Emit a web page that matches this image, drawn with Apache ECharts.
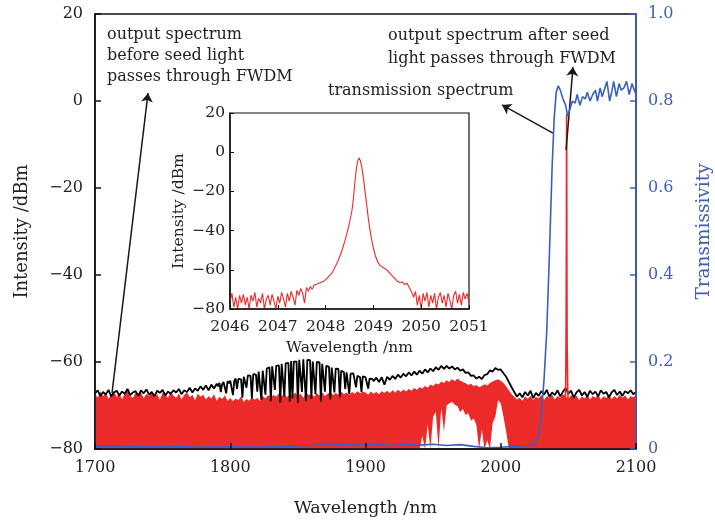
<!DOCTYPE html>
<html>
<head>
<meta charset="utf-8">
<title>Output spectrum through FWDM</title>
<script src="https://cdn.jsdelivr.net/npm/echarts@6/dist/echarts.min.js"></script>
<style>
  html, body { margin: 0; padding: 0; background: #fff; }
  #chart { width: 715px; height: 524px; }
</style>
</head>
<body>
<div id="chart"></div>
<script>
// ---- data ----

// black: output spectrum before seed light passes through FWDM  [nm, dBm]
const blackSpectrum = [
  [1700,-67.2],[1702,-66.5],[1704,-67.8],[1706,-66.9],[1708,-67.5],[1710,-66.4],[1712,-67.9],[1714,-67.0],[1716,-66.6],[1718,-67.7],
  [1720,-66.8],[1722,-67.3],[1724,-66.2],[1726,-67.6],[1728,-67.0],[1730,-66.7],[1732,-67.8],[1734,-66.5],[1736,-67.2],[1738,-66.3],
  [1740,-67.5],[1742,-66.9],[1744,-67.9],[1746,-66.6],[1748,-67.1],[1750,-66.4],[1752,-67.7],[1754,-66.8],[1756,-67.3],[1758,-66.5],
  [1760,-67.0],[1762,-66.2],[1764,-67.4],[1766,-66.5],[1768,-66.9],[1770,-65.9],[1772,-67.0],[1774,-66.1],[1776,-66.6],[1778,-65.6],
  [1780,-66.4],[1782,-65.4],[1784,-66.5],[1786,-65.2],[1788,-66.1],
  [1790,-65.0],[1791,-65.6],[1792,-64.8],[1793,-66.9],[1794,-65.1],[1795,-64.6],[1796,-64.9],[1797,-67.2],[1798,-64.4],[1799,-64.9],
  [1800,-64.3],[1801,-64.0],[1802,-67.6],[1803,-64.3],[1804,-63.8],[1805,-66.2],[1806,-63.9],[1807,-63.5],[1808,-64.0],[1809,-68.2],
  [1810,-63.4],[1811,-63.0],[1812,-65.9],[1813,-63.1],[1814,-62.7],[1815,-63.2],[1816,-68.4],[1817,-62.8],[1818,-62.4],[1819,-62.9],
  [1820,-66.8],[1821,-62.2],[1822,-61.9],[1823,-68.7],[1824,-62.0],[1825,-61.6],[1826,-67.5],[1827,-61.5],[1828,-61.9],[1829,-61.2],
  [1830,-69.0],[1831,-61.0],[1832,-60.7],[1833,-66.4],[1834,-60.9],[1835,-60.5],[1836,-60.8],[1837,-69.3],[1838,-60.4],[1839,-60.1],
  [1840,-67.9],[1841,-60.3],[1842,-59.9],[1843,-60.2],[1844,-69.1],[1845,-59.8],[1846,-68.3],[1847,-59.9],[1848,-59.6],[1849,-59.9],
  [1850,-69.4],[1851,-59.5],[1852,-59.8],[1853,-66.9],[1854,-59.4],[1855,-59.6],[1856,-69.0],[1857,-59.5],[1858,-59.9],[1859,-59.6],
  [1860,-68.5],[1861,-59.9],[1862,-60.1],[1863,-67.4],[1864,-60.0],[1865,-60.3],[1866,-60.1],[1867,-69.1],[1868,-60.4],[1869,-60.7],
  [1870,-66.8],[1871,-60.9],[1872,-60.7],[1873,-61.1],[1874,-68.6],[1875,-61.3],[1876,-61.0],[1877,-67.0],[1878,-61.5],[1879,-61.8],
  [1880,-61.6],[1881,-68.1],[1882,-62.0],[1883,-61.8],[1884,-62.3],[1885,-66.2],[1886,-62.4],[1887,-62.2],[1888,-67.4],[1889,-62.7],
  [1890,-62.9],[1891,-62.6],[1892,-63.0],[1893,-65.8],[1894,-63.2],[1895,-63.0],[1896,-63.5],[1897,-66.9],[1898,-63.3],[1899,-63.7],
  [1900,-63.5],[1901,-63.9],[1902,-66.1],[1903,-63.8],[1904,-64.2],[1905,-63.9],
  [1906,-64.4],[1908,-63.6],[1910,-64.6],[1912,-63.5],[1914,-65.2],[1916,-63.4],[1918,-64.1],[1920,-63.2],[1922,-63.9],[1924,-62.9],
  [1926,-63.6],[1928,-62.7],[1930,-63.3],[1932,-62.4],[1934,-63.1],[1936,-62.2],[1938,-62.9],[1940,-62.0],[1942,-62.7],[1944,-61.7],
  [1946,-62.4],[1948,-61.5],[1950,-62.1],[1952,-61.2],[1954,-61.8],[1956,-60.9],[1958,-61.6],[1960,-60.9],[1962,-61.5],[1964,-61.0],
  [1966,-61.7],[1968,-61.3],[1970,-62.0],[1972,-61.7],[1974,-62.5],[1976,-62.4],[1978,-63.2],[1980,-63.1],[1982,-63.8],[1984,-63.4],
  [1986,-63.9],[1988,-63.0],[1990,-62.8],[1992,-61.9],[1994,-62.2],[1996,-61.4],[1998,-61.8],[2000,-61.7],[2002,-62.6],[2004,-63.4],
  [2006,-64.6],[2008,-65.8],[2010,-66.9],[2012,-68.0],
  [2014,-67.2],[2016,-68.1],[2018,-66.9],[2020,-67.7],[2022,-66.6],[2024,-68.3],[2026,-67.1],[2028,-67.8],[2030,-66.7],[2032,-67.5],
  [2034,-66.4],[2036,-68.0],[2038,-67.0],[2040,-67.6],[2042,-66.5],[2044,-67.9],[2046,-66.8],[2048,-66.0],[2050,-67.3],[2052,-66.6],
  [2054,-68.2],[2056,-67.0],[2058,-66.4],[2060,-67.7],[2062,-66.9],[2064,-68.0],[2066,-66.6],[2068,-67.4],[2070,-66.8],[2072,-67.9],
  [2074,-66.5],[2076,-67.3],[2078,-66.9],[2080,-68.1],[2082,-67.0],[2084,-66.4],[2086,-67.6],[2088,-66.8],[2090,-67.8],[2092,-66.7],
  [2094,-67.2],[2096,-66.5],[2098,-67.4],[2100,-66.9]
];

// red: output spectrum after seed light passes through FWDM
// upper envelope of the noisy trace, one value every 2 nm from 1700 to 2100
const redTop = [
  -67.3,-68.2,-66.8,-67.9,-67.0,-68.5,-67.4,-66.7,-68.0,-67.2,
  -68.6,-67.1,-66.6,-67.8,-68.3,-67.0,-67.6,-66.9,-68.4,-67.3,
  -67.8,-66.8,-68.1,-67.4,-68.7,-67.0,-67.5,-68.2,-66.9,-67.7,
  -68.3,-67.2,-68.6,-67.5,-67.0,-68.1,-67.6,-68.8,-67.3,-68.0,
  -67.5,-68.6,-67.9,-68.4,-67.4,-68.9,-68.0,-68.5,-67.7,-68.9,
  -68.3,-69.0,-68.4,-68.8,-67.9,-69.2,-68.5,-68.9,-68.1,-68.7,
  -68.3,-68.9,-67.8,-68.4,-67.6,-68.2,-67.5,-68.0,-67.2,-67.9,
  -67.3,-68.1,-67.4,-67.8,-67.0,-67.7,-67.3,-68.2,-67.1,-67.6,
  -67.4,-68.0,-67.2,-67.7,-67.0,-67.8,-67.3,-66.9,-67.6,-67.1,
  -67.5,-66.8,-67.4,-67.0,-67.6,-66.9,-67.3,-66.7,-67.2,-66.8,
  -67.0,-67.5,-66.8,-67.3,-66.9,-67.4,-66.7,-67.1,-66.6,-67.2,
  -66.5,-67.0,-66.4,-66.9,-66.3,-66.8,-66.2,-66.6,-66.0,-66.4,
  -65.8,-66.1,-65.5,-65.9,-65.2,-65.5,-64.9,-65.2,-64.5,-64.8,
  -64.2,-64.6,-63.9,-64.4,-63.8,-64.3,-64.6,-64.9,-65.3,-65.0,
  -65.6,-65.3,-65.8,-65.5,-65.1,-65.4,-64.8,-64.5,-64.2,-64.0,
  -64.3,-64.8,-65.6,-66.5,-67.4,-68.0,-68.6,-68.2,-68.9,-67.9,
  -68.5,-67.7,-68.8,-68.0,-68.4,-67.6,-68.7,-67.9,-68.3,-67.5,
  -68.6,-67.8,-68.2,-67.4,-67.9,-68.5,-67.6,-68.3,-67.7,-68.8,
  -67.9,-68.4,-67.5,-68.6,-67.8,-68.2,-67.4,-68.7,-67.9,-68.3,
  -67.6,-68.5,-67.8,-68.4,-67.5,-68.2,-67.7,-68.6,-67.9,-68.1,
  -67.6
];
// lower envelope where the red trace lifts off the floor (white holes), same 2 nm grid
const redGap = [
  [1942,-77.0],[1944,-80.0],[1946,-74.5],[1948,-80.0],[1950,-72.5],[1952,-71.5],[1954,-80.0],[1956,-70.5],
  [1958,-76.0],[1960,-70.0],[1962,-69.5],[1964,-69.2],[1966,-69.8],[1968,-70.2],[1970,-71.5],[1972,-70.8],
  [1974,-72.2],[1976,-71.8],[1978,-73.5],[1980,-73.0],[1982,-74.5],[1984,-80.0],[1986,-75.5],[1988,-80.0],
  [1990,-78.0],[1992,-80.0],[1994,-74.0],[1996,-72.5],[1998,-68.8],[2000,-69.5],[2002,-72.5],[2004,-76.0]
];
const redFloor = -80;

// narrow seed line (also the inset)  [nm, dBm]
const seedLine = [
  [2046.00,-76],[2046.04,-72],[2046.08,-79],[2046.12,-74],[2046.16,-80],[2046.20,-73],[2046.24,-77],[2046.28,-72.5],
  [2046.32,-78],[2046.36,-74],[2046.40,-80],[2046.44,-73],[2046.48,-76],[2046.52,-71.5],[2046.56,-79],[2046.60,-74.5],
  [2046.64,-77],[2046.68,-72],[2046.72,-80],[2046.76,-75],[2046.80,-73],[2046.84,-78],[2046.88,-72.5],[2046.92,-76],
  [2046.96,-80],[2047.00,-73.5],[2047.04,-77],[2047.08,-71.5],[2047.12,-75],[2047.16,-79],[2047.20,-72],[2047.24,-76],
  [2047.28,-71],[2047.32,-74],[2047.36,-78],[2047.40,-70.5],[2047.44,-73],[2047.48,-69.5],[2047.52,-72],[2047.56,-77],
  [2047.60,-69],[2047.64,-71],[2047.68,-68.5],[2047.72,-70],[2047.76,-67.8],[2047.80,-68.8],[2047.85,-67],[2047.90,-66.5],
  [2047.95,-66],[2048.00,-65],[2048.05,-63.8],[2048.10,-62.5],[2048.15,-61],[2048.20,-58.5],[2048.25,-56],[2048.30,-53],
  [2048.35,-49.5],[2048.40,-45.5],[2048.45,-41],[2048.50,-36],[2048.55,-30],[2048.58,-24],[2048.61,-16],[2048.64,-9],
  [2048.67,-4.5],[2048.70,-3],[2048.73,-4.5],[2048.76,-8],[2048.79,-13],[2048.82,-19],[2048.86,-27],[2048.90,-35],
  [2048.95,-43],[2049.00,-49],[2049.05,-53.5],[2049.10,-56.5],[2049.15,-58],[2049.20,-58.8],[2049.25,-59.5],[2049.30,-60.5],
  [2049.35,-62],[2049.40,-63.2],[2049.45,-64.5],[2049.50,-65.8],[2049.55,-66.5],[2049.60,-66.2],[2049.65,-67.5],[2049.70,-66.8],
  [2049.75,-69],[2049.80,-71.5],[2049.84,-74],[2049.88,-71],[2049.92,-78],[2049.96,-73],[2050.00,-80],[2050.04,-72],
  [2050.08,-76],[2050.12,-71.5],[2050.16,-79],[2050.20,-73],[2050.24,-77],[2050.28,-72],[2050.32,-80],[2050.36,-74],
  [2050.40,-71.5],[2050.44,-77],[2050.48,-73],[2050.52,-79],[2050.56,-72],[2050.60,-75.5],[2050.64,-80],[2050.68,-73],
  [2050.72,-71],[2050.76,-77],[2050.80,-72.5],[2050.84,-78],[2050.88,-71.5],[2050.92,-75],[2050.96,-72],[2051.00,-77]
];

// blue: FWDM transmission spectrum  [nm, transmissivity]
const transmission = [
  [1700,0.006],[1720,0.006],[1740,0.005],[1760,0.006],[1780,0.004],[1800,0.005],[1820,0.004],[1840,0.006],
  [1860,0.008],[1870,0.013],[1880,0.010],[1890,0.011],[1900,0.009],[1910,0.011],[1920,0.008],[1930,0.010],
  [1940,0.009],[1950,0.011],[1960,0.008],[1970,0.010],[1980,0.006],[1990,0.003],[2000,0.004],[2010,0.006],
  [2020,0.008],[2025,0.010],[2028,0.03],[2030,0.08],[2032,0.16],[2034,0.27],[2036,0.45],[2038,0.65],
  [2039.5,0.76],[2041,0.82],[2042.5,0.835],[2044,0.825],[2046,0.805],[2048,0.79],[2049.5,0.765],[2051,0.78],
  [2053,0.80],[2055,0.795],[2056.5,0.815],[2058.5,0.79],[2060.5,0.81],[2062.5,0.805],[2064,0.82],[2066,0.80],
  [2068,0.815],[2070,0.825],[2071.5,0.80],[2073.5,0.83],[2075,0.81],[2077,0.83],[2078.5,0.845],[2080.5,0.80],
  [2082,0.82],[2083.5,0.845],[2085.5,0.81],[2087.5,0.84],[2089,0.825],[2091,0.83],[2093,0.845],[2095,0.815],
  [2097,0.84],[2100,0.815]
];

// annotation arrows, tail -> head, in main-plot units [nm, dBm]
const arrowLines = [
  [[1712.6,-67.1],[1739.2,1.8]],
  [[2038.6,-7.4],[2000.9,-0.9]],
  [[2048.3,-11.3],[2053.4,7.8]]
];

const ticksMain = { x: [1700, 2100, 100], y: [-80, 20, 20], t: [0, 1, 0.2] };
const ticksInset = { x: [2046, 2051, 1], y: [-80, 20, 20] };

// ---- styles ----
const FONT = 'DejaVu Serif';
const INK = '#222';
const RED = '#ec2a2a';
const BLUE = '#3c5fbd';
const minus = v => String(v).replace('-', '\u2212');

// rows [x, low, high] for the red band
const redLow = redTop.map((_, i) => {
  const hit = redGap.find(g => g[0] === 1700 + 2 * i);
  return hit ? hit[1] : redFloor;
});
const redRows = redTop.map((v, i) => [1700 + 2 * i, redLow[i], v]);

function valueAxis(range, extra) {
  return Object.assign({
    type: 'value', min: range[0], max: range[1], interval: range[2],
    splitLine: { show: false },
    axisLine: { onZero: false, lineStyle: { color: '#111', width: 1.5 } },
    axisTick: { inside: true, length: 6, lineStyle: { color: '#111', width: 1.5 } },
    axisLabel: { fontFamily: FONT, fontSize: 16, color: INK, formatter: minus },
    nameLocation: 'middle',
    nameTextStyle: { fontFamily: FONT, fontSize: 18, color: INK },
    z: 10
  }, extra);
}

const chart = echarts.init(document.getElementById('chart'));
chart.setOption({
  animation: false,
  backgroundColor: '#fff',
  grid: [
    { left: 95, right: 79, top: 14, bottom: 75, outerBoundsMode: 'none',
      show: true, borderColor: '#111', borderWidth: 1.5 },
    { left: 230, top: 113, width: 239, height: 196, outerBoundsMode: 'none',
      show: true, backgroundColor: '#fff', borderColor: '#111', borderWidth: 1.2 }
  ],
  xAxis: [
    valueAxis(ticksMain.x, { gridIndex: 0, name: 'Wavelength /nm', nameGap: 50,
      nameTextStyle: { fontFamily: FONT, fontSize: 17.5, color: INK },
      axisLabel: { fontFamily: FONT, fontSize: 16, color: INK, margin: 11, formatter: minus } }),
    valueAxis(ticksInset.x, { gridIndex: 1, name: 'Wavelength /nm', nameGap: 31,
      nameTextStyle: { fontFamily: FONT, fontSize: 15.5, color: INK },
      axisLabel: { fontFamily: FONT, fontSize: 15.5, color: INK, margin: 10, formatter: minus },
      axisTick: { inside: true, length: 4, lineStyle: { color: '#111', width: 1 } } })
  ],
  yAxis: [
    valueAxis(ticksMain.y, { gridIndex: 0, name: 'Intensity /dBm', nameGap: 64,
      axisLabel: { fontFamily: FONT, fontSize: 16, color: INK, margin: 12, formatter: minus } }),
    valueAxis(ticksMain.t, { gridIndex: 0, position: 'right', name: 'Transmissivity', nameGap: 59,
      axisLine: { onZero: false, lineStyle: { color: BLUE, width: 1.5 } },
      axisTick: { inside: true, length: 6, lineStyle: { color: BLUE, width: 1.5 } },
      axisLabel: { fontFamily: FONT, fontSize: 16, color: BLUE, margin: 12,
        formatter: v => v === 0 ? '0' : v.toFixed(1) },
      nameTextStyle: { fontFamily: FONT, fontSize: 18.5, color: BLUE } }),
    valueAxis(ticksInset.y, { gridIndex: 1, name: 'Intensity /dBm', nameGap: 43,
      nameTextStyle: { fontFamily: FONT, fontSize: 15.5, color: INK },
      axisLabel: { fontFamily: FONT, fontSize: 15.5, color: INK, margin: 5, formatter: minus },
      axisTick: { inside: true, length: 4, lineStyle: { color: '#111', width: 1 } } })
  ],
  series: [
    {
      // red noisy trace drawn as one filled band between its low and high envelope
      name: 'after FWDM',
      type: 'custom',
      xAxisIndex: 0, yAxisIndex: 0,
      data: redRows,
      encode: { x: 0, y: [1, 2] },
      z: 2,
      silent: true,
      renderItem: function (params, api) {
        if (params.dataIndex !== 0) return null;
        const upper = redRows.map(r => api.coord([r[0], r[2]]));
        const lower = redRows.slice().reverse().map(r => api.coord([r[0], r[1]]));
        return { type: 'polygon', shape: { points: upper.concat(lower) }, style: { fill: RED } };
      }
    },
    {
      name: 'before FWDM',
      type: 'line',
      xAxisIndex: 0, yAxisIndex: 0,
      data: blackSpectrum,
      showSymbol: false,
      z: 3,
      lineStyle: { color: '#000', width: 1.8 },
      markLine: {
        silent: true,
        symbol: ['none', 'arrow'],
        symbolSize: 9,
        label: { show: false },
        lineStyle: { color: '#1a1a1a', width: 1.5, type: 'solid' },
        data: arrowLines.map(a => [{ coord: a[0] }, { coord: a[1] }])
      }
    },
    {
      name: 'seed line',
      type: 'line',
      xAxisIndex: 0, yAxisIndex: 0,
      data: seedLine,
      showSymbol: false,
      z: 4,
      lineStyle: { color: RED, width: 1.6 }
    },
    {
      name: 'transmission spectrum',
      type: 'line',
      xAxisIndex: 0, yAxisIndex: 1,
      data: transmission,
      showSymbol: false,
      z: 5,
      lineStyle: { color: BLUE, width: 1.6 }
    },
    {
      name: 'inset',
      type: 'line',
      xAxisIndex: 1, yAxisIndex: 2,
      data: seedLine,
      showSymbol: false,
      z: 5,
      lineStyle: { color: RED, width: 1.1 }
    }
  ],
  graphic: [
    { type: 'text', left: 107, top: 24, z: 20,
      style: { text: 'output spectrum\nbefore seed light\npasses through FWDM', fontFamily: FONT, fontSize: 16, lineHeight: 21, fill: INK } },
    { type: 'text', left: 388, top: 24, z: 20,
      style: { text: 'output spectrum after seed\nlight passes through FWDM', fontFamily: FONT, fontSize: 16, lineHeight: 23, fill: INK } },
    { type: 'text', left: 328, top: 80, z: 20,
      style: { text: 'transmission spectrum', fontFamily: FONT, fontSize: 16, lineHeight: 21, fill: INK } }
  ]
});
</script>
</body>
</html>
